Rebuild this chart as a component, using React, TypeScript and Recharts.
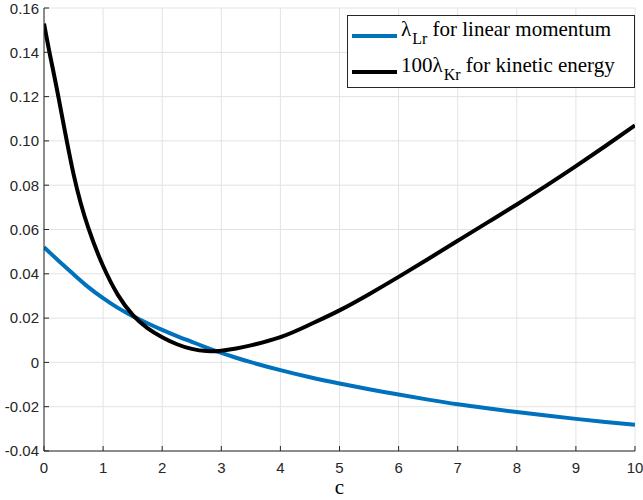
import React from "react";
import { LineChart, Line, XAxis, YAxis, CartesianGrid, Legend } from "recharts";

const cValues = [0, 0.1, 0.25, 0.5, 0.75, 1, 1.25, 1.5, 1.75, 2, 2.25, 2.5, 2.75, 3, 3.25, 3.5, 4, 4.5, 5, 5.5, 6, 6.5, 7, 7.5, 8, 8.5, 9, 9.5, 10];
const lambdaLr = [0.052, 0.0495, 0.0458, 0.0398, 0.034, 0.029, 0.0246, 0.0209, 0.0177, 0.0147, 0.0119, 0.0093, 0.0067, 0.0043, 0.0021, 0.0001, -0.0035, -0.0067, -0.0095, -0.0121, -0.0145, -0.0168, -0.0189, -0.0207, -0.0224, -0.024, -0.0255, -0.0269, -0.0282];
const lambdaKr100 = [0.153, 0.139, 0.119, 0.085, 0.0607, 0.0435, 0.0305, 0.0215, 0.0155, 0.0114, 0.0082, 0.0061, 0.0051, 0.0053, 0.0063, 0.0077, 0.0114, 0.0171, 0.0235, 0.0308, 0.0386, 0.0467, 0.0549, 0.0631, 0.0713, 0.0798, 0.0886, 0.0977, 0.107];

const xTicks = [0, 1, 2, 3, 4, 5, 6, 7, 8, 9, 10];
const yTicks = [-0.04, -0.02, 0, 0.02, 0.04, 0.06, 0.08, 0.1, 0.12, 0.14, 0.16];

const data = cValues.map((c, i) => ({ c, lr: lambdaLr[i], kr: lambdaKr100[i] }));

const AXIS = "#262626";
const BLUE = "#0072BD";
const SERIF = "'Liberation Serif', 'Times New Roman', serif";
const tickFont = { fill: AXIS, fontSize: 15, fontFamily: "'Liberation Sans', Arial, sans-serif" };
const fmtY = (v: number) => (v === 0 ? "0" : v.toFixed(2));
const noLabel = () => <g />;

// MATLAB-style legend box, top right of the axes
const LegendBox = () => {
  const row = (color: string, top: number, pre: string, sub: string, rest: string) => (
    <>
      <span style={{ position: "absolute", left: 4, top: top + 17, width: 45, height: 4, background: color }} />
      <span style={{ position: "absolute", left: 53, top, lineHeight: "24px", whiteSpace: "nowrap", fontFamily: SERIF }}>
        {pre}λ<span style={{ fontSize: 16, verticalAlign: "-8px", marginLeft: 1 }}>{sub}</span> {rest}
      </span>
    </>
  );
  return (
    <div
      style={{
        position: "relative",
        width: 288,
        height: 73,
        boxSizing: "border-box",
        border: `1px solid ${AXIS}`,
        background: "#fff",
        fontFamily: SERIF,
        fontSize: 21,
        color: "#000",
      }}
    >
      {row(BLUE, 1, "", "Lr", "for linear momentum")}
      {row("#000", 37, "100", "Kr", "for kinetic energy")}
    </div>
  );
};

export default function App() {
  return (
    <div style={{ position: "absolute", left: 0, top: 0, background: "#fff" }}>
      <LineChart width={643} height={500} data={data} margin={{ top: 8, right: 8, bottom: 0, left: 0 }}>
        <CartesianGrid stroke="#e3e3e3" strokeWidth={1} />
        <XAxis
          dataKey="c"
          type="number"
          domain={[0, 10]}
          ticks={xTicks}
          allowDataOverflow
          height={49}
          stroke={AXIS}
          tickSize={-5}
          tickMargin={16}
          tick={tickFont}
          label={{ value: "c", position: "insideBottom", offset: 6, fill: "#000", fontSize: 21, fontFamily: SERIF }}
        />
        <XAxis xAxisId="top" dataKey="c" type="number" orientation="top" domain={[0, 10]} ticks={xTicks} height={0} stroke={AXIS} tickSize={-5} tick={noLabel} />
        <YAxis
          type="number"
          domain={[-0.04, 0.16]}
          ticks={yTicks}
          allowDataOverflow
          width={44}
          stroke={AXIS}
          tickSize={-5}
          tickMargin={10}
          tick={tickFont}
          tickFormatter={fmtY}
        />
        <YAxis yAxisId="right" orientation="right" type="number" domain={[-0.04, 0.16]} ticks={yTicks} width={0} stroke={AXIS} tickSize={-5} tick={noLabel} />
        <Legend
          layout="vertical"
          align="center"
          verticalAlign="middle"
          content={() => <LegendBox />}
          wrapperStyle={{ top: 15, left: 347, width: 288, height: 73 }}
        />
        <Line type="natural" dataKey="lr" stroke={BLUE} strokeWidth={4} dot={false} isAnimationActive={false} />
        <Line type="natural" dataKey="kr" stroke="#000" strokeWidth={4} dot={false} isAnimationActive={false} />
      </LineChart>
    </div>
  );
}
